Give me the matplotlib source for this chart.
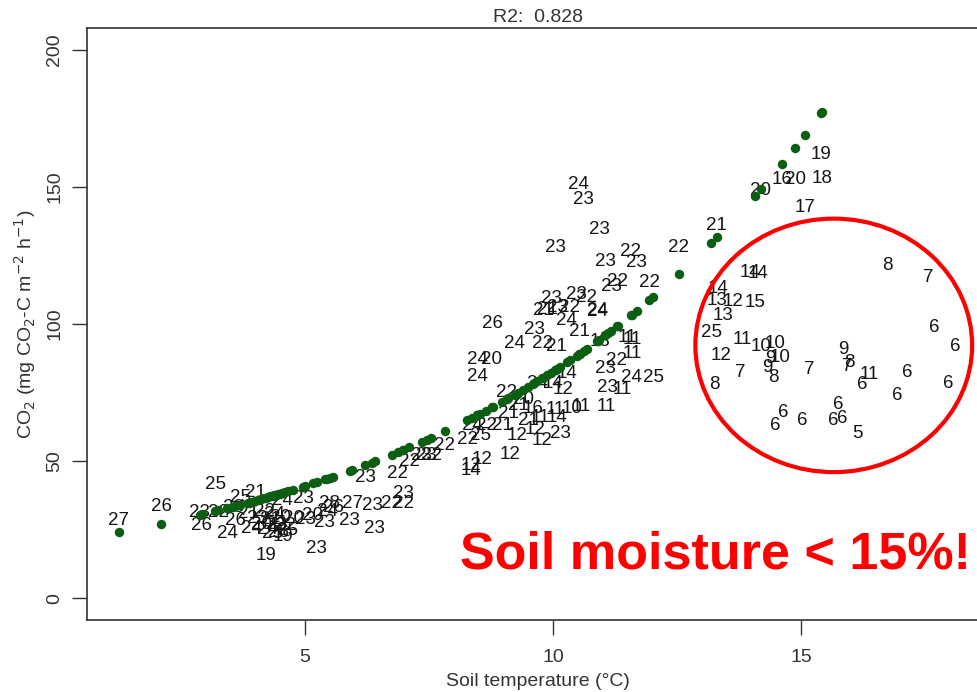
import matplotlib
matplotlib.use("Agg")
import matplotlib.pyplot as plt
import numpy as np
from matplotlib.patches import Ellipse

plt.rcParams['font.family'] = ['Liberation Sans', 'DejaVu Sans']

# soil temperature (degC), CO2 flux, soil moisture (%) per chamber measurement
temp = [
    1.25, 2.10, 2.88, 2.92, 3.19, 3.25, 3.43, 3.59, 3.55, 3.69, 3.85, 3.93, 4.00,
    4.05, 4.12, 4.18, 4.21, 4.25, 4.30, 4.35, 4.38, 4.42, 4.46, 4.50, 4.54, 4.55,
    4.60, 4.65, 4.76, 4.96, 5.00, 5.16, 5.24, 5.40, 5.50, 5.57, 5.45, 5.95, 5.90,
    6.21, 6.35, 6.41, 6.75, 6.98, 6.98, 6.87, 7.10, 7.35, 7.45, 7.55, 7.82,
    # 8-12 degC
    8.27, 8.35, 8.35, 8.37, 8.47, 8.47, 8.53, 8.57, 8.65, 8.77, 8.79, 8.98, 9.07,
    9.10, 9.13, 9.23, 9.27, 9.30, 9.40, 9.50, 9.60, 9.62, 9.64, 9.68, 9.74, 9.78,
    9.78, 9.80, 9.88, 9.96, 10.00, 10.04, 10.04, 10.06, 10.08, 10.08, 10.14, 10.20,
    10.28, 10.28, 10.34, 10.38, 10.48, 10.52, 10.54, 10.58, 10.62, 10.68, 10.89,
    10.90, 10.93, 10.95, 11.05, 11.05, 11.07, 11.10, 11.17, 11.29, 11.31, 11.39,
    11.49, 11.57, 11.59, 11.59, 11.60, 11.69, 11.94, 12.02, 12.54,
    # warm end
    13.30, 14.19, 14.62, 14.88, 15.08, 15.40, 15.42,
    13.19, 13.25, 13.31, 13.33, 13.39, 13.43, 13.63, 13.77, 13.81, 13.97, 14.07,
    14.13, 14.19, 14.33, 14.38, 14.44, 14.48, 14.48, 14.58, 14.64, 15.02, 15.16,
    15.65, 15.75, 15.83, 15.85, 15.93, 15.97, 16.13, 16.23, 16.37, 16.75, 16.94,
    17.14, 17.56, 17.68, 17.96, 18.10,
]
co2 = [
    28.4, 33.5, 31.3, 26.6, 41.5, 31.3, 23.7, 28.4, 33.0, 36.8, 31.0, 25.5, 38.6,
    29.0, 27.0, 31.5, 15.7, 25.0, 28.5, 23.5, 30.5, 27.0, 24.0, 29.5, 35.7, 22.5,
    26.5, 24.5, 29.0, 36.4, 28.8, 30.0, 18.2, 27.7, 34.6, 33.2, 31.5, 34.6, 28.4,
    44.1, 33.9, 25.5, 34.6, 34.6, 38.3, 45.5, 50.0, 52.0, 52.0, 52.0, 55.7,
    58.0, 46.6, 48.4, 63.0, 87.0, 80.9, 59.4, 50.6, 63.0, 87.0, 100.2, 63.0, 75.0,
    67.3, 52.5, 93.0, 59.4, 70.3, 72.5, 64.8, 69.0, 98.0, 61.5, 78.3, 66.0, 93.0,
    57.6, 105.0, 105.3, 109.3, 78.3, 68.8, 128.0, 91.8, 66.0, 106.0, 60.1, 76.0,
    82.0, 101.3, 106.0, 69.0, 110.7, 151.0, 97.3, 70.0, 145.4, 109.6, 105.0,
    104.6, 134.4, 93.6, 122.8, 83.8, 70.0, 76.9, 113.6, 86.7, 115.5, 76.0,
    95.0, 126.4, 94.3, 80.5, 89.2, 122.4, 115.1, 80.5, 127.9,
    135.9, 148.6, 152.6, 152.6, 142.4, 162.0, 153.0,
    96.9, 78.0, 108.6, 112.9, 88.5, 103.1, 108.2, 82.3, 94.4, 118.8, 107.8,
    118.4, 91.8, 84.2, 87.4, 80.5, 92.9, 63.0, 87.8, 67.8, 64.8, 83.4,
    64.8, 70.7, 65.6, 90.7, 84.5, 86.0, 60.1, 78.0, 81.6, 121.3, 74.0,
    82.3, 116.9, 98.7, 78.3, 91.8,
]
moist = [
    27, 26, 23, 26, 25, 22, 24, 26, 23, 25, 21, 24, 21,
    23, 20, 22, 19, 24, 21, 25, 24, 23, 26, 20, 24, 19,
    22, 25, 20, 23, 23, 20, 23, 23, 28, 26, 24, 27, 23,
    23, 23, 23, 22, 22, 23, 22, 22, 23, 23, 22, 22,
    22, 14, 12, 24, 24, 24, 25, 12, 22, 20, 26, 21, 22,
    21, 12, 24, 12, 21, 20, 21, 16, 23, 12, 24, 11, 22,
    12, 21, 21, 23, 14, 11, 23, 21, 14, 23, 23, 12,
    14, 24, 22, 10, 23, 24, 21, 11, 23, 22, 24,
    24, 23, 13, 23, 23, 11, 23, 23, 22, 22, 11,
    11, 22, 11, 24, 11, 23, 22, 25, 22,
    21, 20, 16, 20, 17, 19, 18,
    25, 8, 13, 14, 12, 13, 12, 7, 11, 14, 15,
    14, 10, 9, 9, 8, 10, 6, 10, 6, 6, 7,
    6, 6, 6, 9, 7, 8, 5, 6, 11, 8, 6,
    6, 7, 6, 6, 6,
]

# exponential fit CO2 = a * exp(b * T) on moisture >= 15 %
fit_a, fit_b = 20.23, 0.1408
r2 = 0.828

temp = np.array(temp)
co2 = np.array(co2)
moist = np.array(moist)
wet = moist >= 15
t_fit = np.sort(temp[wet])
co2_fit = fit_a * np.exp(fit_b * t_fit)

fig = plt.figure(figsize=(9.78, 6.92), dpi=100)
ax = fig.add_axes([87 / 978, 72 / 692, 902 / 978, 592 / 692])

for t, c, m in zip(temp, co2, moist):
    ax.text(t, c, str(m), ha='center', va='center', fontsize=13.5,
            color='#151515', zorder=2)
ax.plot(t_fit, co2_fit, 'o', color='#0b5e12', ms=6.8, mec='none', zorder=3)

ax.set_xlim(0.605, 18.79)
ax.set_ylim(-8, 208)
ax.set_xticks([5, 10, 15])
ax.set_yticks([0, 50, 100, 150, 200])
ax.tick_params(direction='out', length=11, width=1, labelsize=14,
               colors='#333333', pad=6)
ax.tick_params(axis='x', pad=10)
for lbl in ax.get_yticklabels():
    lbl.set_rotation(90)
    lbl.set_va('center')
for sp in ax.spines.values():
    sp.set_color('#333333')
    sp.set_linewidth(1.2)

ax.set_xlabel('Soil temperature (°C)', fontsize=14, color='#333333', labelpad=5)
ax.set_ylabel(r'CO$_2$ (mg CO$_2$-C m$^{-2}$ h$^{-1}$)', fontsize=14,
              color='#333333', labelpad=6)
ax.set_title('R2:  %.3f' % r2, fontsize=14, color='#333333', pad=4)

# highlight of the dry measurements
ax.add_patch(Ellipse((15.66, 92.2), 5.58, 92.5, fill=False, ec='#ff0000',
                     lw=3, zorder=4, clip_on=False))
fig.text(715 / 978, 1 - 555 / 692, 'Soil moisture < 15%!', color='#ff0000',
         fontsize=37.5, fontweight='bold', ha='center', va='center')

fig.savefig('out.png', dpi=100)
